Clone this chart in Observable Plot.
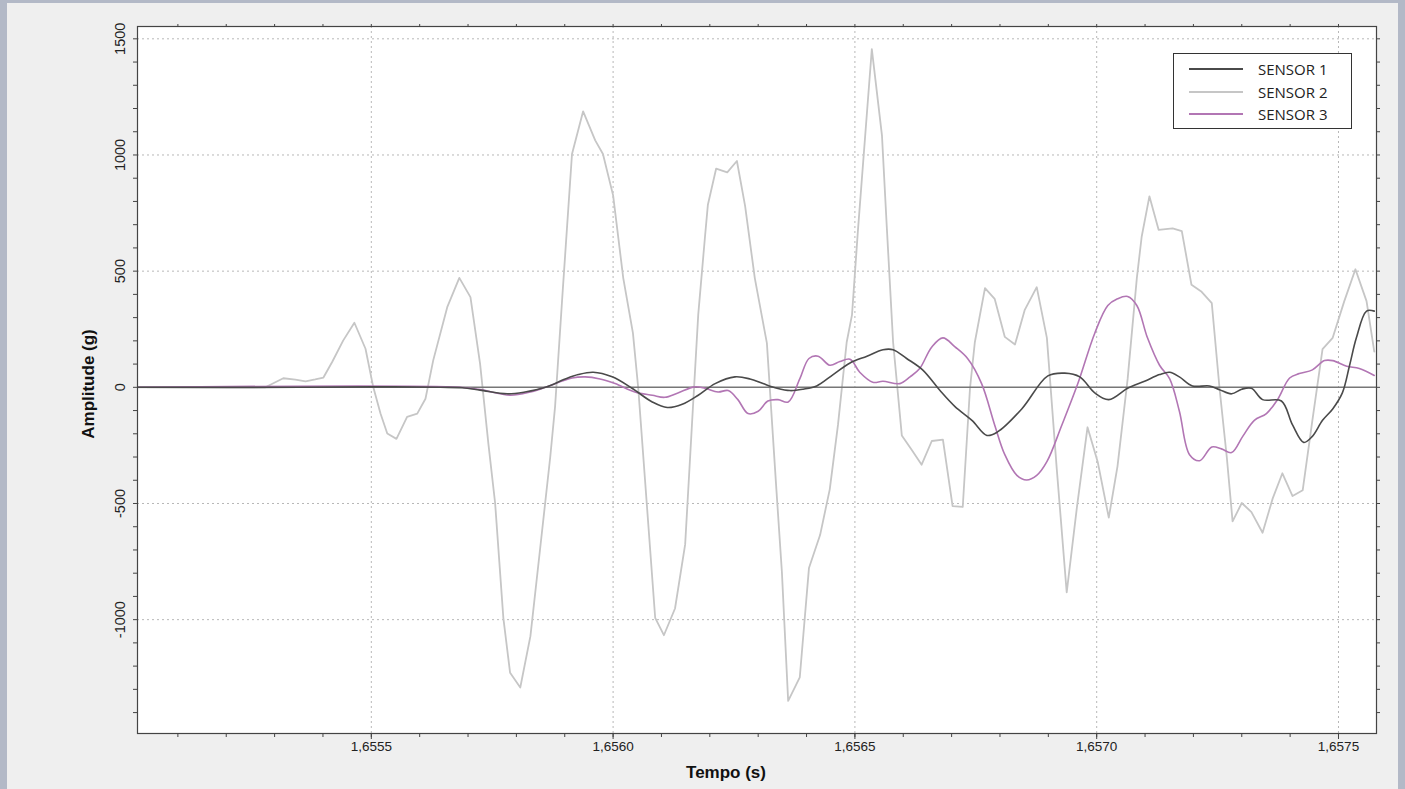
<!DOCTYPE html>
<html>
<head>
<meta charset="utf-8">
<script src="https://cdn.jsdelivr.net/npm/d3@7"></script>
<script src="https://cdn.jsdelivr.net/npm/@observablehq/plot@0.6"></script>
<style>
  html, body { margin: 0; padding: 0; background: #efefef; }
  #page { position: relative; width: 1405px; height: 789px; overflow: hidden; background: #efefef; }
  #chart { position: absolute; left: 0; top: 0; }
  .edge { position: absolute; background: #b3b9c7; }
  #legend { position: absolute; left: 1173px; top: 53px; width: 179px; height: 76px;
            border: 1.5px solid #333; background: #fff; box-sizing: border-box;
            font-family: "Open Sans", "Liberation Sans", sans-serif; font-size: 15px; color: #222; }
  .lrow { position: absolute; left: 0; height: 20px; width: 100%; }
  .lrow svg { position: absolute; left: 15px; top: 0; }
  .lrow span { position: absolute; left: 84px; top: 0px; line-height: 20px; }
</style>
</head>
<body>
<div id="page">
  <div class="edge" style="left:0;top:0;width:7px;height:789px;"></div>
  <div class="edge" style="left:0;top:0;width:1405px;height:3px;"></div>
  <div class="edge" style="right:0;top:0;width:7px;height:789px;"></div>
  <div id="chart"></div>
  <div id="legend"></div>
</div>
<script>
// Time values in microseconds after 1.6550 s
const sensor1T = [17,353,519,643,688,725,781,818,860,901,928,959,998,1039,1081,1112,1143,1176,1211,1252,1283,1310,1339,1366,1393,1421,1455,1490,1525,1558,1579,1607,1640,1676,1707,1742,1773,1795,1845,1899,1934,1965,1996,2025,2064,2099,2130,2151,2171,2198,2233,2254,2279,2300,2320,2343,2382,2405,2428,2446,2467,2488,2508,2523,2537,2558,2574];
const sensor1V = [0,0,2,0,-2,-12,-28,-20,0,36,55,65,45,-4,-63,-87,-73,-34,16,45,36,16,-4,-14,-8,6,55,105,134,162,162,124,75,-14,-83,-142,-207,-192,-93,49,61,45,-24,-53,-4,26,55,65,45,6,6,-10,-28,-8,-4,-53,-59,-162,-237,-211,-142,-93,-24,95,213,328,328];

const sensor2T = [17,281,318,343,364,384,401,419,442,465,488,504,519,533,552,574,595,612,628,657,682,705,725,742,756,773,787,808,829,849,870,880,895,915,938,963,979,1000,1021,1041,1052,1066,1087,1105,1128,1149,1163,1176,1190,1196,1213,1236,1256,1273,1293,1318,1337,1349,1362,1386,1405,1428,1448,1465,1483,1494,1506,1535,1556,1566,1579,1597,1618,1638,1659,1682,1702,1723,1738,1748,1769,1789,1810,1831,1851,1876,1897,1917,1938,1959,1981,2002,2025,2043,2064,2083,2093,2109,2128,2157,2176,2196,2217,2238,2254,2269,2281,2300,2320,2343,2364,2384,2405,2426,2446,2467,2488,2512,2535,2558,2574];
const sensor2V = [0,0,39,33,26,34,42,109,202,278,166,1,-113,-199,-222,-127,-113,-49,116,345,471,388,100,-241,-498,-992,-1229,-1292,-1071,-696,-300,-83,391,1004,1188,1063,1004,826,470,233,-4,-399,-992,-1067,-952,-676,-162,312,648,786,941,925,974,780,470,190,-420,-794,-1350,-1248,-778,-636,-439,-162,194,312,668,1456,1083,688,194,-207,-271,-333,-231,-225,-511,-515,-4,194,427,381,217,184,332,431,213,-340,-883,-518,-172,-320,-561,-340,36,470,648,822,678,684,672,441,411,362,-4,-300,-577,-498,-537,-626,-478,-370,-468,-443,-142,164,213,371,508,371,154];

const sensor3T = [17,684,725,787,829,860,915,942,973,1004,1045,1081,1107,1134,1169,1190,1217,1238,1258,1279,1300,1320,1341,1362,1386,1405,1424,1448,1469,1490,1510,1537,1558,1593,1614,1634,1659,1682,1707,1733,1762,1789,1810,1835,1855,1876,1897,1928,1961,1996,2023,2043,2064,2083,2105,2130,2151,2171,2192,2213,2238,2258,2279,2302,2326,2351,2374,2399,2419,2446,2471,2488,2517,2543,2574];
const sensor3V = [0,0,-10,-34,-20,0,40,45,36,16,-20,-34,-43,-24,2,-4,-20,-14,-53,-113,-103,-59,-53,-63,36,124,134,95,111,121,65,22,26,16,45,81,174,213,174,124,16,-162,-290,-379,-399,-379,-320,-162,16,233,352,381,391,352,213,95,36,-103,-290,-316,-257,-265,-281,-211,-142,-113,-53,40,59,75,115,115,91,81,51];

const seriesNames = ["SENSOR 1", "SENSOR 2", "SENSOR 3"];
const seriesColors = ["#4a4a4a", "#c6c6c6", "#b276b4"];

const xTickValues = [1.6555, 1.6560, 1.6565, 1.6570, 1.6575];
const yTickValues = [-1000, -500, 0, 500, 1000, 1500];

const toRows = (T, V) => T.map((t, i) => ({ t: 1.655 + t / 1e6, v: V[i] }));
const s1 = toRows(sensor1T, sensor1V);
const s2 = toRows(sensor2T, sensor2V);
const s3 = toRows(sensor3T, sensor3V);

const xMinor = d3.range(1, 26).map(i => 1.655 + i * 0.0001);
const yMinor = d3.range(-14, 16).map(i => i * 100);
const fmtX = d => d.toFixed(4).replace(".", ",");

const chart = Plot.plot({
  width: 1405,
  height: 789,
  marginLeft: 137,
  marginRight: 29,
  marginTop: 26,
  marginBottom: 56,
  style: { background: "transparent", fontFamily: "'Liberation Sans', Arial, sans-serif", color: "#222" },
  x: { domain: [1.6550165, 1.6575786] },
  y: { domain: [-1490, 1553] },
  marks: [
    Plot.frame({ fill: "white", stroke: null }),
    Plot.gridX(xTickValues, { stroke: "#b8b8b8", strokeOpacity: 1, strokeDasharray: "2,3" }),
    Plot.gridY(yTickValues.filter(d => d !== 0), { stroke: "#b8b8b8", strokeOpacity: 1, strokeDasharray: "2,3" }),
    Plot.line(s2, { x: "t", y: "v", stroke: seriesColors[1], strokeWidth: 1.8 }),
    Plot.ruleY([0], { stroke: "#777", strokeWidth: 1.6 }),
    Plot.line(s3, { x: "t", y: "v", stroke: seriesColors[2], strokeWidth: 1.6, curve: "catmull-rom" }),
    Plot.line(s1, { x: "t", y: "v", stroke: seriesColors[0], strokeWidth: 1.6, curve: "catmull-rom" }),
    Plot.frame({ stroke: "#444", strokeWidth: 1.2 }),
    Plot.axisX(xMinor, { anchor: "bottom", tickSize: 4, text: null, label: null, stroke: "#444" }),
    Plot.axisX(xMinor, { anchor: "top", tickSize: 3, text: null, label: null, stroke: "#444" }),
    Plot.axisY(yMinor, { anchor: "left", tickSize: 4, text: null, label: null, stroke: "#444" }),
    Plot.axisY(yMinor, { anchor: "right", tickSize: 3, text: null, label: null, stroke: "#444" }),
    Plot.axisX(xTickValues, { anchor: "bottom", tickSize: 6, tickFormat: fmtX, fontSize: 13.5, tickPadding: 2, label: null, stroke: "#444", fill: "#222" }),
    Plot.text(yTickValues, { y: d => d, text: d => String(d), frameAnchor: "left", textAnchor: "middle", rotate: -90, dx: -17, fontSize: 14.5, fill: "#222" }),
    Plot.text(["Amplitude (g)"], { frameAnchor: "left", textAnchor: "middle", rotate: -90, dx: -49, dy: 4, fontSize: 17, fontWeight: "bold", fill: "#111" }),
    Plot.text(["Tempo (s)"], { frameAnchor: "bottom", textAnchor: "middle", dx: -31, dy: 44, fontSize: 17, fontWeight: "bold", fill: "#111" })
  ]
});
document.getElementById("chart").appendChild(chart);

// Legend
const legend = document.getElementById("legend");
seriesNames.forEach((name, i) => {
  const row = document.createElement("div");
  row.className = "lrow";
  row.style.top = (5 + i * 22.5) + "px";
  row.innerHTML = `<svg width="56" height="20"><line x1="0" x2="54" y1="10" y2="10" stroke="${seriesColors[i]}" stroke-width="2"/></svg><span>${name}</span>`;
  legend.appendChild(row);
});
</script>
</body>
</html>
